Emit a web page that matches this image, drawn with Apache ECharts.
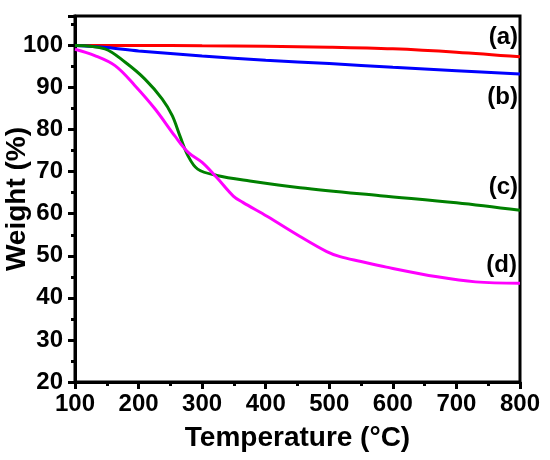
<!DOCTYPE html>
<html>
<head>
<meta charset="utf-8">
<script src="https://cdn.jsdelivr.net/npm/echarts@6/dist/echarts.min.js"></script>
<style>html,body{margin:0;padding:0;background:#fff}#c{width:550px;height:460px}</style>
</head>
<body>
<div id="c"></div>
<script>
const xTicks = [100, 200, 300, 400, 500, 600, 700, 800];
const yTicks = [20, 30, 40, 50, 60, 70, 80, 90, 100];
const seriesNames = ['(a)', '(b)', '(c)', '(d)'];
const curveA = [[100,100],[200,100],[300,99.9],[400,99.8],[500,99.6],[600,99.2],[700,98.4],[800,97.3]];
const curveB = [[100,100],[150,99.5],[200,98.7],[300,97.5],[400,96.5],[500,95.7],[600,94.8],[700,94],[800,93.2]];
const curveC = [[100,100],[147,99.2],[179,96],[210,92],[237,87.3],[253,83.3],[265,78.5],[278,73.7],[293,70.6],[323,69.1],[375,67.8],[454,66.2],[580,64.3],[700,62.6],[800,60.8]];
const curveD = [[100,99.1],[131,97.6],[163,95.2],[194,90.5],[226,84.9],[257,78.5],[278,74.6],[300,72.2],[323,68.6],[349,64.2],[364,62.7],[402,59.4],[454,54.6],[496,51],[517,49.8],[548,48.7],[590,47.3],[670,45],[730,43.8],[800,43.5]];

const FONT = 'Arial, "Liberation Sans", sans-serif';
const colors = ['#ff0000', '#0000ff', '#008000', '#ff00ff'];
const curves = [curveA, curveB, curveC, curveD];

const chart = echarts.init(document.getElementById('c'), null, {renderer: 'canvas'});
chart.setOption({
  animation: false,
  grid: {left: 75, right: 30, top: 16, bottom: 78, containLabel: false, outerBoundsMode: 'none',
    show: true, borderColor: '#000', borderWidth: 3, backgroundColor: 'transparent'},
  xAxis: {
    type: 'value', min: xTicks[0], max: xTicks[xTicks.length - 1], interval: 100,
    name: 'Temperature (°C)', nameLocation: 'middle', nameGap: 42, nameMoveOverlap: false,
    nameTextStyle: {fontFamily: FONT, fontWeight: 'bold', fontSize: 28, color: '#000'},
    axisLine: {show: true, lineStyle: {color: '#000', width: 3}},
    axisTick: {show: true, length: 7, lineStyle: {color: '#000', width: 3}},
    minorTick: {show: true, splitNumber: 2, length: 4, lineStyle: {color: '#000', width: 3}},
    splitLine: {show: false},
    axisLabel: {fontFamily: FONT, fontWeight: 'bold', fontSize: 24, color: '#000', margin: 10}
  },
  yAxis: {
    type: 'value', min: yTicks[0], max: 107, interval: 10,
    name: 'Weight (%)', nameLocation: 'middle', nameGap: 44, nameMoveOverlap: false,
    nameTextStyle: {fontFamily: FONT, fontWeight: 'bold', fontSize: 28, color: '#000'},
    axisLine: {show: true, lineStyle: {color: '#000', width: 3}},
    axisTick: {show: true, length: 7, lineStyle: {color: '#000', width: 3}},
    minorTick: {show: true, splitNumber: 2, length: 4, lineStyle: {color: '#000', width: 3}},
    splitLine: {show: false},
    axisLabel: {fontFamily: FONT, fontWeight: 'bold', fontSize: 24, color: '#000', margin: 12, showMaxLabel: false,
      formatter: v => (yTicks.indexOf(v) >= 0 ? String(v) : '')}
  },
  series: curves.map((d, i) => ({
    name: seriesNames[i], type: 'line', data: d, smooth: 0.35,
    showSymbol: false, lineStyle: {color: colors[i], width: 3}, itemStyle: {color: colors[i]}, z: 2 + i
  })),
  graphic: [
    {type: 'text', right: 32, top: 25, style: {text: seriesNames[0], font: 'bold 24px ' + FONT, fill: '#000'}},
    {type: 'text', right: 32, top: 85, style: {text: seriesNames[1], font: 'bold 24px ' + FONT, fill: '#000'}},
    {type: 'text', right: 32, top: 175, style: {text: seriesNames[2], font: 'bold 24px ' + FONT, fill: '#000'}},
    {type: 'text', right: 33, top: 253, style: {text: seriesNames[3], font: 'bold 24px ' + FONT, fill: '#000'}}
  ]
});
</script>
</body>
</html>
